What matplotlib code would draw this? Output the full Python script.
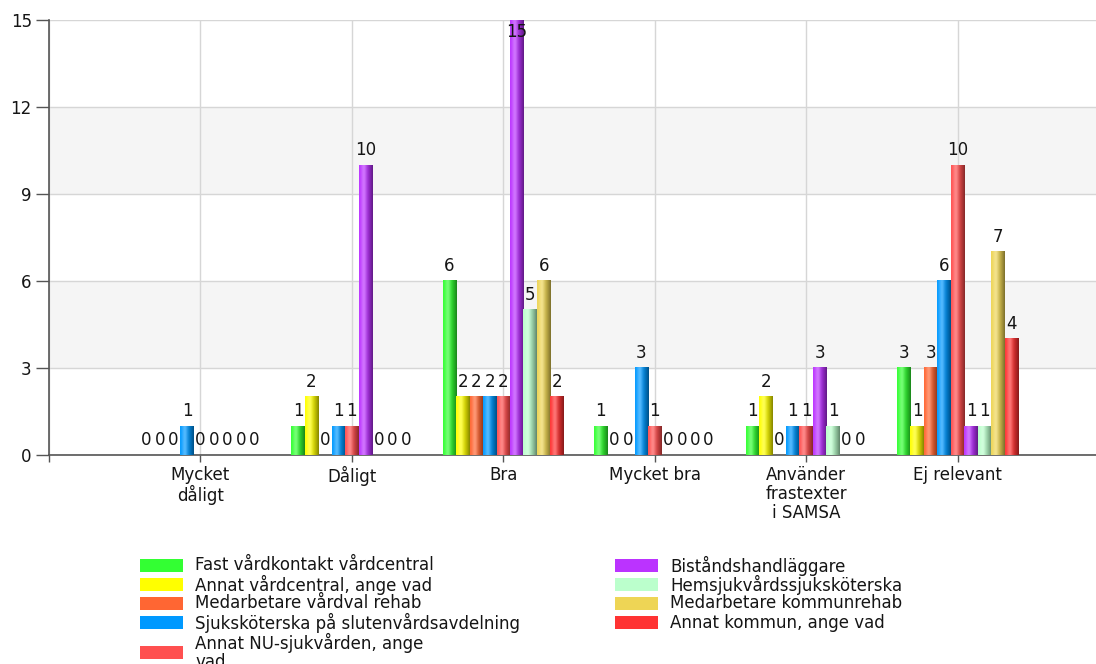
import matplotlib
matplotlib.use("Agg")
import matplotlib.pyplot as plt
import numpy as np
from matplotlib.patches import Rectangle
from matplotlib.colors import to_rgb

plt.rcParams["font.family"] = ["DejaVu Sans"]

# Answer categories on the x axis
categories = ["Mycket\ndåligt", "Dåligt", "Bra", "Mycket bra",
              "Använder\nfrastexter\ni SAMSA", "Ej relevant"]

# Respondent groups (legend order) and their colours
series_names = [
    "Fast vårdkontakt vårdcentral",
    "Annat vårdcentral, ange vad",
    "Medarbetare vårdval rehab",
    "Sjuksköterska på slutenvårdsavdelning",
    "Annat NU-sjukvården, ange\nvad",
    "Biståndshandläggare",
    "Hemsjukvårdssjuksköterska",
    "Medarbetare kommunrehab",
    "Annat kommun, ange vad",
]
series_colors = ["#33ff33", "#ffff00", "#ff6633", "#0099ff", "#ff5050",
                 "#bb33ff", "#bbffcc", "#eed555", "#ff3333"]

# Counts per category for each group
fast_vardkontakt = [0, 1, 6, 1, 1, 3]
annat_vardcentral = [0, 2, 2, 0, 2, 1]
medarbetare_vardval = [0, 0, 2, 0, 0, 3]
sjukskoterska_sluten = [1, 1, 2, 3, 1, 6]
annat_nu = [0, 1, 2, 1, 1, 10]
bistand = [0, 10, 15, 0, 3, 1]
hemsjukvard = [0, 0, 5, 0, 1, 1]
kommunrehab = [0, 0, 6, 0, 0, 7]
annat_kommun = [0, 0, 2, 0, 0, 4]

series_values = [fast_vardkontakt, annat_vardcentral, medarbetare_vardval,
                 sjukskoterska_sluten, annat_nu, bistand, hemsjukvard,
                 kommunrehab, annat_kommun]

yticks = [0, 3, 6, 9, 12, 15]

W, H = 1096, 664
fig = plt.figure(figsize=(W / 100, H / 100), dpi=100)
ax = fig.add_axes([49 / W, 209 / H, 1 - 49 / W, 435 / H])

YMAX = 15
XMAX = 5.914
FS = 12
text_color = "#151515"


def shade_strip(color, n=64):
    # cylinder-like shading: highlight left of centre, darker to the right
    base = np.array(to_rgb(color))
    t = np.linspace(0, 1, n)
    light = 0.32 * np.exp(-((t - 0.35) / 0.22) ** 2)
    dark = 0.48 * np.clip((t - 0.35) / 0.65, 0, 1) ** 1.3
    rgb = base * (1 - light[:, None]) + light[:, None]
    rgb = rgb * (1 - dark[:, None])
    return rgb[None, :, :]


# background bands and grid
for lo, hi in [(3, 6), (9, 12)]:
    ax.axhspan(lo, hi, color="#f5f5f5", zorder=0, lw=0)

n_series = len(series_values)
group_width = 0.8
bar_w = group_width / n_series
x = np.arange(len(categories))

for j, (vals, col) in enumerate(zip(series_values, series_colors)):
    pos = x + (j - (n_series - 1) / 2) * bar_w
    bars = ax.bar(pos, vals, bar_w, color=col, lw=0, zorder=2)
    strip = shade_strip(col)
    for rect, v in zip(bars, vals):
        if v > 0:
            x0 = rect.get_x()
            ax.imshow(strip, extent=(x0, x0 + rect.get_width(), 0, rect.get_height()),
                      aspect="auto", interpolation="bilinear", zorder=3)
        xc = rect.get_x() + rect.get_width() / 2
        if v >= YMAX:
            ax.annotate(f"{v}", xy=(xc, v), xytext=(0, -3), textcoords="offset pixels",
                        ha="center", va="top", fontsize=FS, color=text_color, zorder=5)
        else:
            ax.annotate(f"{v}", xy=(xc, v), xytext=(0, 10), textcoords="offset pixels",
                        ha="center", va="baseline", fontsize=FS, color=text_color, zorder=5)

ax.set_xlim(-1, XMAX)
ax.set_ylim(0, YMAX)
ax.set_yticks(yticks)
ax.set_xticks(np.arange(-1, len(categories)))
ax.set_xticklabels([""] + categories, linespacing=1.05)

ax.set_axisbelow(True)
ax.grid(True, color="#d6d6d6", lw=1, zorder=1)

for side in ["top", "right"]:
    ax.spines[side].set_visible(False)
for side in ["left", "bottom"]:
    ax.spines[side].set_color("#555555")
    ax.spines[side].set_linewidth(1.2)

ax.tick_params(axis="y", length=9.4, width=1, color="#555555", pad=3,
               labelsize=FS, labelcolor=text_color)
ax.tick_params(axis="x", length=5, width=1, color="#555555", pad=3,
               labelsize=FS, labelcolor=text_color)

# legend in two columns below the plot
left_rows = [565.5, 584.5, 603.5, 622.5, 652]
right_rows = [565.5, 584.5, 603.5, 622.5]
slots = [(140, y) for y in left_rows] + [(615, y) for y in right_rows]
for (sx, sy), name, col in zip(slots, series_names, series_colors):
    fig.add_artist(Rectangle((sx / W, 1 - (sy + 6.5) / H), 43 / W, 13 / H,
                             transform=fig.transFigure, facecolor=col,
                             edgecolor="none"))
    fig.text((sx + 55) / W, 1 - sy / H, name, ha="left", va="center",
             fontsize=FS, color=text_color, linespacing=1.05)

fig.savefig("out.png", dpi=100)
